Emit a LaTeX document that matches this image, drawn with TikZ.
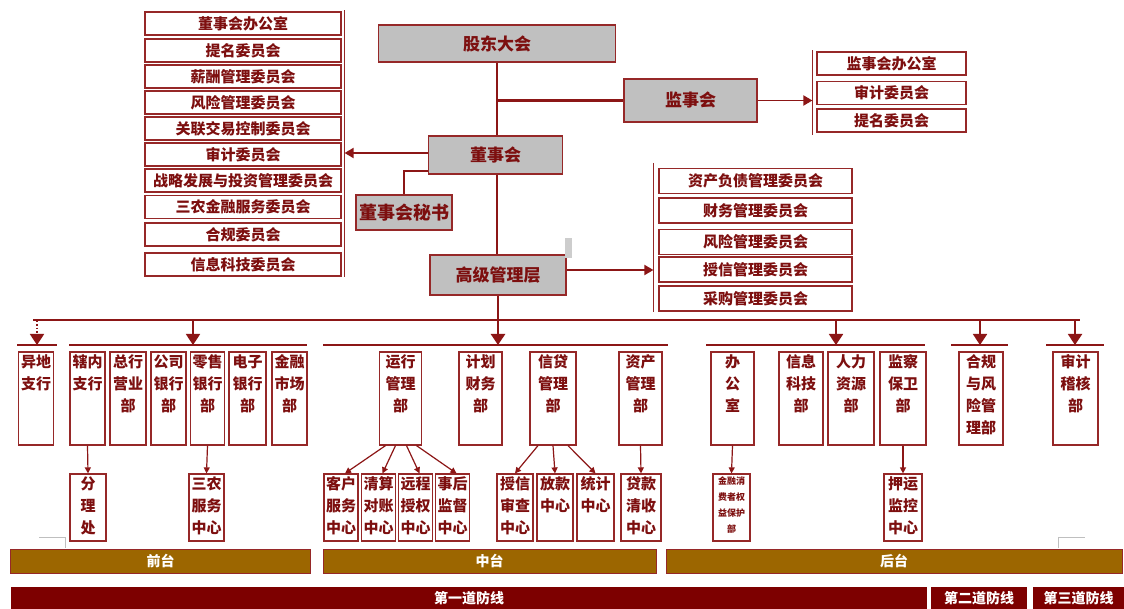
\documentclass[tikz,border=0pt]{standalone}
\usepackage{fontspec}
\setmainfont{Noto Sans CJK SC}
\usetikzlibrary{calc,arrows.meta}
\definecolor{lnk}{RGB}{140,22,22}
\definecolor{bdr}{RGB}{150,40,40}
\definecolor{txt}{RGB}{125,15,15}
\definecolor{boxgray}{RGB}{192,192,192}
\definecolor{barbrown}{RGB}{156,102,0}
\definecolor{bardark}{RGB}{125,0,0}
\tikzset{
  graybox/.style={draw=bdr, fill=boxgray, line width=1.5pt, text=txt, inner sep=0pt,
    font=\fontsize{17}{20}\selectfont\bfseries},
  combox/.style={draw=bdr, fill=white, line width=1.2pt, text=txt, inner sep=0pt,
    minimum height=23, font=\fontsize{15}{17}\selectfont\bfseries},
  deptbox/.style={draw=bdr, line width=1.2pt, minimum height=93, inner sep=0pt},
  subbox/.style={draw=bdr, line width=1.2pt, minimum height=67, inner sep=0pt},
  vtext/.style={anchor=north, align=center, text=txt, inner sep=3pt,
    font=\fontsize{15}{22}\selectfont\bfseries},
  tinytext/.style={vtext, font=\fontsize{9}{16}\selectfont\bfseries},
  trunk/.style={draw=lnk, line width=2.5pt},
  link/.style={draw=lnk, line width=1.8pt},
  brk/.style={draw=bdr, line width=1.2pt},
  bigtip/.style={-{Triangle[width=14pt,length=11pt]}},
  midtip/.style={-{Triangle[width=10pt,length=9pt]}},
  subarr/.style={draw=lnk, line width=1.2pt, -{Triangle[width=6pt,length=6pt]}},
  tier/.style={draw=bdr, fill=barbrown, text=white, line width=0.8pt, minimum height=24,
    inner sep=0pt, font=\fontsize{14}{16}\selectfont\bfseries},
  defense/.style={fill=bardark, text=white, minimum height=22, inner sep=0pt,
    font=\fontsize{14}{16}\selectfont\bfseries},
}
% box with its text at the top
\newcommand\deptbox[4]{%
  \node[deptbox, minimum width=#3] (#1) at (#2,398.5) {};
  \node[vtext] at (#1.north) {#4};}
\newcommand\centerbox[5][vtext]{%
  \node[subbox, minimum width=#4] (#2) at (#3,507.5) {};
  \node[#1] at (#2.north) {#5};}

\begin{document}
\begin{tikzpicture}[x=1pt,y=-1pt]
  \useasboundingbox[fill=white] (0,0) rectangle (1124,609);

  %%%%% governance %%%%%
  \node[graybox, minimum width=237, minimum height=37] (gd) at (497,43.5) {股东大会};
  \node[graybox, minimum width=133, minimum height=43] (jsh) at (690.5,100.5) {监事会};
  \node[graybox, minimum width=134, minimum height=38] (dsh) at (495.5,155) {董事会};
  \node[graybox, minimum width=96, minimum height=35, font=\fontsize{18}{20}\selectfont\bfseries] (ms) at (404,212.5) {董事会秘书};
  \node[graybox, minimum width=136, minimum height=40] (gg) at (498,275) {高级管理层};
  \fill[boxgray!80] (565,238) rectangle (572,258);

  \draw[trunk] (gd.south) -- (gd.south |- dsh.north);
  \draw[trunk] (gd.south |- jsh.west) -- (jsh.west);
  \draw[trunk] (dsh.south -| gd.south) -- (gd.south |- gg.north);
  \draw[link] ([yshift=4pt]dsh.south west) -| (ms.north);

  % board committees
  \foreach \y/\t [count=\i] in {23.5/董事会办公室, 50.5/提名委员会, 76.5/薪酬管理委员会,
      102.5/风险管理委员会, 128.5/关联交易控制委员会, 154.5/审计委员会,
      180.5/战略发展与投资管理委员会, 207/三农金融服务委员会, 234.5/合规委员会,
      264.5/信息科技委员会}
    \node[combox, minimum width=196] (dc\i) at (243,\y) {\t};
  \coordinate (dbar) at ($(dc1.east)+(3,0)$);
  \draw[brk] ([yshift=1pt]dbar |- dc1.north) -- (dbar |- dc10.south);
  \draw[link, midtip] ([yshift=2pt]dsh.west) -- ([yshift=2pt]dsh.west -| dbar);

  % supervisory committees
  \foreach \y/\t [count=\i] in {63.5/监事会办公室, 93/审计委员会, 120.5/提名委员会}
    \node[combox, minimum width=149] (jb\i) at (891.5,\y) {\t};
  \coordinate (jbar) at ($(jb1.west)+(-4,0)$);
  \draw[brk] ([yshift=1pt]jbar |- jb1.north) -- ([yshift=-2pt]jbar |- jb3.south);
  \draw[link, midtip] (jsh.east) -- (jsh.east -| jbar);

  % management committees
  \foreach \y/\t [count=\i] in {181/资产负债管理委员会, 210.5/财务管理委员会, 242/风险管理委员会,
      269.5/授信管理委员会, 298.5/采购管理委员会}
    \node[combox, minimum width=193, minimum height=25] (gb\i) at (755.5,\y) {\t};
  \coordinate (gbar) at ($(gb1.west)+(-5,0)$);
  \draw[brk] ([yshift=5pt]gbar |- gb1.north) -- (gbar |- gb5.south);
  \draw[link, midtip] ([yshift=5pt]gg.east) -- ([yshift=5pt]gg.east -| gbar);

  %%%%% departments %%%%%
  \foreach \a/\l/\r [count=\i] in {37/17/57, 193/69/307, 498/323/668, 836/706/925,
      980/951/1008, 1075/1046/1104}{
    \coordinate (top\i) at (\a,320);
    \coordinate (grp\i) at (\a,345);
    \draw[link, line width=1.5pt] (\l,345) -- (\r,345);
  }
  \draw[trunk] ([xshift=-4pt]top1) -- ([xshift=5pt]top6);
  \draw[trunk, bigtip] (gg.south) -- (grp3);
  \draw[link, dotted, bigtip] (top1) -- (grp1);
  \foreach \i in {2,4,5,6}
    \draw[link, bigtip] (top\i) -- (grp\i);

  \deptbox{yd}{36}{35}{异地\\支行}
  \deptbox{xn}{87.5}{35}{辖内\\支行}
  \deptbox{zh}{128}{36}{总行\\营业\\部}
  \deptbox{gs}{168.5}{35}{公司\\银行\\部}
  \deptbox{ls}{207.5}{34}{零售\\银行\\部}
  \deptbox{dz}{247.5}{37}{电子\\银行\\部}
  \deptbox{jr}{289.5}{35}{金融\\市场\\部}
  \deptbox{yx}{400.5}{42}{运行\\管理\\部}
  \deptbox{jh}{480.5}{43}{计划\\财务\\部}
  \deptbox{xd}{553}{46}{信贷\\管理\\部}
  \deptbox{zc}{640.5}{43}{资产\\管理\\部}
  \deptbox{bg}{732.5}{43}{办\\公\\室}
  \deptbox{kj}{801}{44}{信息\\科技\\部}
  \deptbox{rl}{851}{46}{人力\\资源\\部}
  \deptbox{jc}{903}{46}{监察\\保卫\\部}
  \deptbox{hg}{981}{44}{合规\\与风\\险管\\理部}
  \deptbox{sj}{1075.5}{45}{审计\\稽核\\部}

  %%%%% centres %%%%%
  \centerbox{fl}{88}{36}{分\\理\\处}
  \centerbox{sn}{206.5}{35}{三农\\服务\\中心}
  \centerbox{kh}{341}{34}{客户\\服务\\中心}
  \centerbox{qs}{378.5}{34}{清算\\对账\\中心}
  \centerbox{yc}{415.5}{34}{远程\\授权\\中心}
  \centerbox{sh}{452.5}{34}{事后\\监督\\中心}
  \centerbox{sx}{515}{36}{授信\\审查\\中心}
  \centerbox{fk}{555}{36}{放款\\中心}
  \centerbox{tj}{595.5}{37}{统计\\中心}
  \centerbox{qsh}{641}{40}{贷款\\清收\\中心}
  \centerbox[tinytext]{xf}{731.5}{37}{金融消\\费者权\\益保护\\部}
  \centerbox{yy}{903}{38}{押运\\监控\\中心}

  \draw[subarr] (xn.south) -- (fl.north);
  \draw[subarr] (ls.south) -- (sn.north);
  \foreach \n/\dx in {kh/-15, qs/-5, yc/6, sh/16}
    \draw[subarr] ($(yx.south)+(\dx,0)$) -- ($(\n.north)+(4,0)$);
  \foreach \n/\dx in {sx/-15, fk/0, tj/15}
    \draw[subarr] ($(xd.south)+(\dx,0)$) -- (\n.north);
  \draw[subarr] (zc.south) -- (qsh.north);
  \draw[subarr] (bg.south) -- (xf.north);
  \draw[subarr] (jc.south) -- (yy.north);

  %%%%% tiers %%%%%
  \draw[gray!50, line width=0.8pt] (39,537) -- (65,537) -- (65,548);
  \draw[gray!50, line width=0.8pt] (1058,548) -- (1058,537) -- (1085,537);
  \node[tier, minimum width=300] (qt) at (160.5,561) {前台};
  \node[tier, minimum width=333] (zt) at (489.5,561) {中台};
  \node[tier, minimum width=456] (ht) at (894,561) {后台};
  \node[defense, minimum width=916] (fx1) at (469,598) {第一道防线};
  \node[defense, minimum width=96] (fx2) at (979,598) {第二道防线};
  \node[defense, minimum width=91] (fx3) at (1078.5,598) {第三道防线};
\end{tikzpicture}
\end{document}
